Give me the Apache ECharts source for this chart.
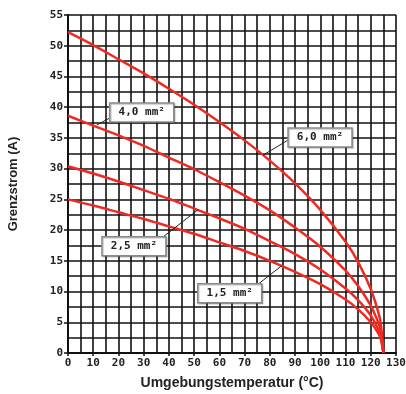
<!DOCTYPE html>
<html>
<head>
<meta charset="utf-8">
<script src="https://cdn.jsdelivr.net/npm/echarts@6/dist/echarts.min.js"></script>
<style>
  html, body { margin: 0; padding: 0; background: #fff; }
  #chart { width: 406px; height: 394px; }
</style>
</head>
<body>
<div id="chart"></div>
<script>
// Grenzstrom über Umgebungstemperatur
const temps = [0, 10, 20, 30, 40, 50, 60, 70, 80, 90, 100, 110, 115, 120, 123, 124, 125]
const i60 = [52.2, 50.1, 47.8, 45.5, 43.0, 40.4, 37.6, 34.6, 31.3, 27.6, 23.3, 18.1, 14.8, 10.4, 6.6, 4.7, 0]
const i40 = [38.6, 37.0, 35.4, 33.7, 31.8, 29.9, 27.8, 25.6, 23.2, 20.4, 17.3, 13.4, 10.9, 7.7, 4.9, 3.5, 0]
const i25 = [30.4, 29.2, 27.9, 26.5, 25.1, 23.5, 21.9, 20.2, 18.2, 16.1, 13.6, 10.5, 8.6, 6.1, 3.8, 2.7, 0]
const i15 = [25.0, 24.0, 22.9, 21.8, 20.6, 19.4, 18.0, 16.6, 15.0, 13.2, 11.2, 8.7, 7.1, 5.0, 3.2, 2.2, 0]
const seriesNames = ['6,0 mm²', '4,0 mm²', '2,5 mm²', '1,5 mm²']

// Beschriftungen: Punkt auf der Kurve, Versatz der Box (links oben), Ende der Führungslinie
const labelAnchors = [
  { text: '4,0 mm²', at: [11.4, 37.1], box: [13, -22], end: [13, -7] },
  { text: '6,0 mm²', at: [77.3, 32.2], box: [25, -27], end: [25, -15] },
  { text: '2,5 mm²', at: [51.5, 23.3], box: [-96, 27], end: [-36, 28] },
  { text: '1,5 mm²', at: [84.7, 14.2], box: [-84, 18], end: [-23, 18] }
]

const myChart = echarts.init(document.getElementById('chart'))

const gridLine = { show: true, lineStyle: { color: '#111', width: 1.6 } }
const monoLabel = {
  fontFamily: 'DejaVu Sans Mono',
  fontWeight: 'bold',
  fontSize: 11,
  color: '#222'
}

function mkSeries(name, data) {
  return {
    name: name,
    type: 'line',
    smooth: 0.3,
    symbol: 'none',
    lineStyle: { color: '#ee2a24', width: 2.5 },
    data: temps.map((t, k) => [t, data[k]]),
    z: 5
  }
}

const options = {
  animation: false,
  backgroundColor: '#fff',
  grid: { left: 68, right: 10, top: 15, bottom: 41, outerBoundsMode: 'none', containLabel: false },
  xAxis: {
    type: 'value',
    min: 0,
    max: 130,
    interval: 10,
    name: 'Umgebungstemperatur (°C)',
    nameLocation: 'middle',
    nameGap: 23,
    nameTextStyle: { fontFamily: 'Liberation Sans', fontWeight: 'bold', fontSize: 14, color: '#222' },
    axisLine: { show: true, lineStyle: { color: '#111', width: 2 } },
    axisTick: { show: true, length: 3, lineStyle: { color: '#111', width: 1.5 } },
    axisLabel: Object.assign({ margin: 5 }, monoLabel),
    splitLine: gridLine,
    minorTick: { show: false, splitNumber: 2 },
    minorSplitLine: gridLine
  },
  yAxis: {
    type: 'value',
    min: 0,
    max: 55,
    interval: 5,
    name: 'Grenzstrom (A)',
    nameLocation: 'middle',
    nameGap: 48,
    nameTextStyle: { fontFamily: 'Liberation Sans', fontWeight: 'bold', fontSize: 13, color: '#222' },
    axisLine: { show: true, lineStyle: { color: '#111', width: 2 } },
    axisTick: { show: true, length: 4, lineStyle: { color: '#111', width: 1.5 } },
    axisLabel: Object.assign({ margin: 5 }, monoLabel),
    splitLine: gridLine,
    minorTick: { show: false, splitNumber: 2 },
    minorSplitLine: gridLine
  },
  series: [
    mkSeries(seriesNames[0], i60),
    mkSeries(seriesNames[1], i40),
    mkSeries(seriesNames[2], i25),
    mkSeries(seriesNames[3], i15)
  ]
}

myChart.setOption(options)

// Boxen mit Führungslinie
const graphics = []
labelAnchors.forEach(a => {
  const p = myChart.convertToPixel({ gridIndex: 0 }, a.at)
  const bx = p[0] + a.box[0]
  const by = p[1] + a.box[1]
  graphics.push({
    type: 'line',
    shape: { x1: p[0], y1: p[1], x2: p[0] + a.end[0], y2: p[1] + a.end[1] },
    style: { stroke: '#222', lineWidth: 1 },
    z: 20
  })
  graphics.push({
    type: 'rect',
    shape: { x: bx, y: by, width: 64, height: 19 },
    style: { fill: '#fff', stroke: '#8a8a8a', lineWidth: 1.5, shadowColor: 'rgba(0,0,0,0.25)', shadowBlur: 1, shadowOffsetX: 1, shadowOffsetY: 1 },
    z: 21
  })
  graphics.push({
    type: 'text',
    x: bx + 32,
    y: by + 9.5,
    style: {
      text: a.text,
      align: 'center',
      verticalAlign: 'middle',
      font: 'bold 11px "DejaVu Sans Mono"',
      fill: '#222'
    },
    z: 22
  })
})

myChart.setOption({ graphic: graphics })
</script>
</body>
</html>
